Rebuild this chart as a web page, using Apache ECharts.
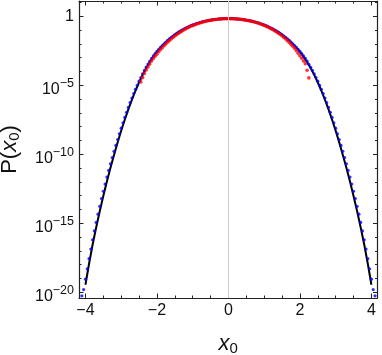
<!DOCTYPE html>
<html>
<head>
<meta charset="utf-8">
<script src="https://cdn.jsdelivr.net/npm/echarts@6/dist/echarts.min.js"></script>
<style>
  html, body { margin: 0; padding: 0; background: #fff; }
  #chart { width: 382px; height: 355px; }
</style>
</head>
<body>
<div id="chart"></div>
<script>
// all y values are log10 P(x0)

// blue dots, x from -4.10 to 4.10 every 0.05
const blueStart = -4.1
const blueStep = 0.05
const blueLog = [
  -20.25, -19.80, -19.05, -18.29, -17.56, -16.86, -16.19, -15.55, -14.94, -14.34,
  -13.77, -13.21, -12.68, -12.16, -11.65, -11.17, -10.69, -10.24, -9.79, -9.36,
  -8.93, -8.52, -8.11, -7.72, -7.33, -6.96, -6.61, -6.26, -5.93, -5.60,
  -5.29, -5.00, -4.71, -4.44, -4.18, -3.93, -3.69, -3.47, -3.26, -3.06,
  -2.88, -2.71, -2.55, -2.40, -2.26, -2.13, -2.00, -1.87, -1.75, -1.64,
  -1.54, -1.44, -1.34, -1.25, -1.16, -1.08, -1.01, -0.93, -0.87, -0.80,
  -0.74, -0.69, -0.63, -0.59, -0.54, -0.50, -0.46, -0.42, -0.39, -0.36,
  -0.33, -0.30, -0.28, -0.26, -0.24, -0.22, -0.21, -0.20, -0.19, -0.18,
  -0.17, -0.17,
  -0.17,
  -0.17, -0.17, -0.18, -0.19, -0.20, -0.21, -0.22, -0.24, -0.26, -0.28,
  -0.30, -0.33, -0.36, -0.39, -0.42, -0.46, -0.50, -0.54, -0.59, -0.63,
  -0.69, -0.74, -0.80, -0.87, -0.93, -1.01, -1.08, -1.16, -1.25, -1.34,
  -1.44, -1.54, -1.64, -1.75, -1.87, -2.00, -2.13, -2.26, -2.40, -2.55,
  -2.71, -2.88, -3.06, -3.26, -3.48, -3.70, -3.93, -4.18, -4.44, -4.71,
  -5.00, -5.29, -5.60, -5.93, -6.26, -6.61, -6.96, -7.33, -7.72, -8.11,
  -8.52, -8.93, -9.36, -9.79, -10.24, -10.69, -11.17, -11.65, -12.16, -12.68,
  -13.21, -13.77, -14.34, -14.94, -15.55, -16.19, -16.86, -17.56, -18.29, -19.05,
  -19.80, -20.25
]

// black curve, x from -4.0 to 4.0 every 0.1
const lineStart = -4.0
const lineStep = 0.1
const lineLog = [
  -19.45, -17.95, -16.55, -15.30, -14.13, -13.02, -11.97, -10.98, -10.05, -9.15,
  -8.30, -7.50, -6.75, -6.05, -5.40, -4.80, -4.25, -3.76, -3.32, -2.93,
  -2.59, -2.29, -2.02, -1.77, -1.55, -1.35, -1.17, -1.01, -0.87, -0.74,
  -0.63, -0.54, -0.46, -0.39, -0.33, -0.28, -0.24, -0.21, -0.19, -0.17,
  -0.17,
  -0.17, -0.19, -0.21, -0.24, -0.28, -0.33, -0.39, -0.46, -0.54, -0.63,
  -0.74, -0.87, -1.01, -1.17, -1.35, -1.55, -1.77, -2.02, -2.29, -2.59,
  -2.93, -3.32, -3.76, -4.25, -4.80, -5.40, -6.05, -6.75, -7.50, -8.30,
  -9.15, -10.05, -10.98, -11.97, -13.02, -14.13, -15.30, -16.55, -17.95, -19.45
]

// red dots, x from -2.45 to 2.25 every 0.05
const redStart = -2.45
const redStep = 0.05
const redLog = [
  -4.76, -4.45, -4.15, -3.90, -3.68, -3.47, -3.25, -3.07, -2.90, -2.75,
  -2.58, -2.42, -2.28, -2.14, -2.01, -1.88, -1.76, -1.65, -1.54, -1.44,
  -1.34, -1.25, -1.16, -1.08, -1.00, -0.92, -0.85, -0.79, -0.73, -0.68,
  -0.63, -0.58, -0.53, -0.49, -0.45, -0.41, -0.38, -0.35, -0.32, -0.30,
  -0.28, -0.26, -0.24, -0.22, -0.21, -0.20, -0.19, -0.19, -0.18, -0.18,
  -0.18, -0.19, -0.19, -0.20, -0.21, -0.22, -0.23, -0.25, -0.27, -0.29,
  -0.32, -0.34, -0.37, -0.40, -0.44, -0.48, -0.52, -0.57, -0.62, -0.67,
  -0.72, -0.78, -0.85, -0.92, -0.99, -1.07, -1.15, -1.24, -1.33, -1.43,
  -1.54, -1.65, -1.77, -1.90, -2.04, -2.18, -2.33, -2.50, -2.68, -2.86,
  -3.05, -3.25, -3.45, -3.92, -4.47
]

// ticks
const xMajor = [-4, -2, 0, 2, 4]
const xMinor = [-3.5, -3, -2.5, -1.5, -1, -0.5, 0.5, 1, 1.5, 2.5, 3, 3.5]
const yMajor = [-20, -15, -10, -5, 0]
const yMinor = [-19, -18, -17, -16, -14, -13, -12, -11, -9, -8, -7, -6, -4, -3, -2, -1, 1]

const toPairs = (start, step, vals) => vals.map((v, i) => [+(start + i * step).toFixed(3), v])

const FONT = "'Liberation Sans', Arial, sans-serif"
const frameColor = '#222'

const mChart = echarts.init(document.getElementById('chart'))

const xBase = {
  type: 'value', min: -4.18, max: 4.17,
  splitLine: { show: false },
  axisLine: { show: false, onZero: false }
}
const yBase = {
  type: 'value', min: -20.41, max: 1.1,
  splitLine: { show: false },
  axisLine: { show: false, onZero: false }
}
const tick = (vals, len) => ({
  show: true, inside: true, length: len, customValues: vals,
  lineStyle: { color: frameColor, width: 1 }
})
const frameLine = { show: true, onZero: false, lineStyle: { color: frameColor, width: 1.2 } }

const options = {
  animation: false,
  grid: { left: 79, right: 4.5, top: 1, bottom: 57, outerBoundsMode: 'none', containLabel: false },
  xAxis: [
    {
      ...xBase, position: 'bottom', axisLine: frameLine,
      axisTick: tick(xMajor, 4.5),
      axisLabel: {
        customValues: xMajor, margin: 5, color: '#111', fontSize: 16, fontFamily: FONT,
        formatter: v => (v < 0 ? '\u2212' + (-v) : String(v))
      },
      name: '{i|x}{s|0}', nameLocation: 'middle', nameGap: 33,
      nameTextStyle: {
        rich: {
          i: { fontSize: 22, fontStyle: 'italic', fontFamily: FONT, color: '#111' },
          s: { fontSize: 15, fontFamily: FONT, color: '#111', verticalAlign: 'bottom', padding: [10, 0, 0, 0] }
        }
      }
    },
    { ...xBase, position: 'bottom', axisTick: tick(xMinor, 2.5), axisLabel: { show: false } },
    { ...xBase, position: 'top', axisLine: frameLine, axisTick: tick(xMajor, 4.5), axisLabel: { show: false } },
    { ...xBase, position: 'top', axisTick: tick(xMinor, 2.5), axisLabel: { show: false } }
  ],
  yAxis: [
    {
      ...yBase, position: 'left', axisLine: frameLine,
      axisTick: tick(yMajor, 4.5),
      axisLabel: {
        customValues: yMajor, margin: 5, color: '#111', fontSize: 16, fontFamily: FONT,
        formatter: v => (v === 0 ? '1' : '{b|10}{s|\u2212' + (-v) + '}'),
        rich: {
          b: { fontSize: 16, fontFamily: FONT, color: '#111', lineHeight: 16, padding: [9, 0, 0, 0] },
          s: { fontSize: 12.5, fontFamily: FONT, color: '#111', lineHeight: 14, verticalAlign: 'top' }
        }
      },
      name: '{n|P(}{i|x}{s|0}{n|)}', nameLocation: 'middle', nameGap: 57,
      nameTextStyle: {
        rich: {
          n: { fontSize: 22, fontFamily: FONT, color: '#111' },
          i: { fontSize: 22, fontStyle: 'italic', fontFamily: FONT, color: '#111' },
          s: { fontSize: 15, fontFamily: FONT, color: '#111', verticalAlign: 'bottom', padding: [10, 0, 0, 0] }
        }
      }
    },
    { ...yBase, position: 'left', axisTick: tick(yMinor, 2.5), axisLabel: { show: false } },
    { ...yBase, position: 'right', axisLine: frameLine, axisTick: tick(yMajor, 4.5), axisLabel: { show: false } },
    { ...yBase, position: 'right', axisTick: tick(yMinor, 2.5), axisLabel: { show: false } }
  ],
  series: [
    {
      type: 'line',
      data: toPairs(lineStart, lineStep, lineLog),
      showSymbol: false,
      lineStyle: { color: '#000', width: 2 },
      markLine: {
        silent: true,
        symbol: ['none', 'none'],
        label: { show: false },
        lineStyle: { color: '#cccccc', width: 1, type: 'solid' },
        data: [{ xAxis: 0 }]
      },
      z: 2
    },
    {
      type: 'scatter',
      data: toPairs(blueStart, blueStep, blueLog),
      symbolSize: 3.2,
      itemStyle: { color: '#0000ff' },
      z: 3
    },
    {
      type: 'scatter',
      data: toPairs(redStart, redStep, redLog),
      symbolSize: 3.6,
      itemStyle: { color: '#ff0000' },
      z: 4
    }
  ]
}
mChart.setOption(options)
</script>
</body>
</html>
